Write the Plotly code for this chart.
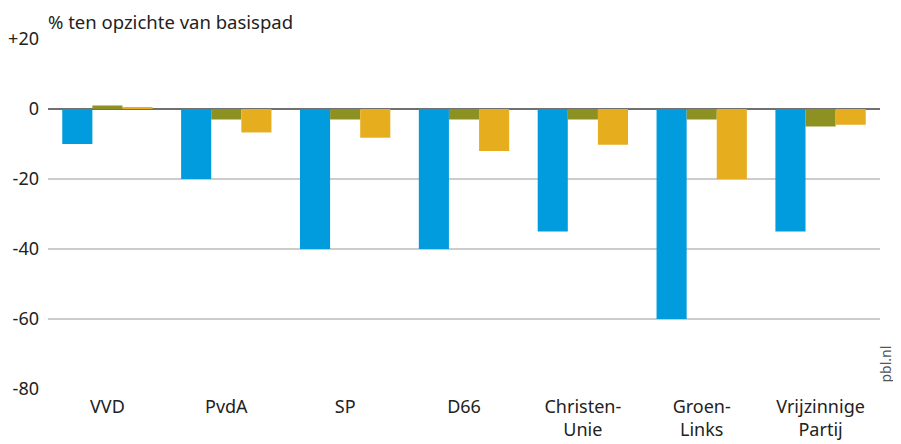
import plotly.graph_objects as go

categories = ["VVD", "PvdA", "SP", "D66", "Christen-<br>Unie", "Groen-<br>Links", "Vrijzinnige<br>Partij"]
series_blue = [-10, -20, -40, -40, -35, -60, -35]
series_green = [1, -3, -3, -3, -3, -3, -5]
series_yellow = [0.5, -6.7, -8.2, -12, -10.2, -20, -4.5]
tick_vals = [20, 0, -20, -40, -60, -80]
tick_text = ["+20", "0", "-20", "-40", "-60", "-80"]

colors = ["#009CDE", "#8C9122", "#E6AD1F"]
FONT = "Noto Sans"

fig = go.Figure()
for vals, c in zip([series_blue, series_green, series_yellow], colors):
    fig.add_trace(go.Bar(x=categories, y=vals, marker=dict(color=c, line=dict(width=0)),
                         showlegend=False, hoverinfo="skip"))

# page body has an 8px default margin, so the figure is sized to 893x436
fig.update_layout(
    width=893, height=436,
    margin=dict(l=40, r=21, t=31, b=55),
    barmode="group", bargap=0.24, bargroupgap=0,
    plot_bgcolor="white", paper_bgcolor="white",
    showlegend=False,
    font=dict(family=FONT, size=18, color="#222"),
    xaxis=dict(showgrid=False, showline=False, zeroline=False, ticks="",
               automargin=False,
               tickfont=dict(size=18, color="#222"), ticklabelstandoff=5),
    yaxis=dict(range=[-80, 20], tickvals=tick_vals, ticktext=tick_text,
               automargin=False,
               showgrid=True, gridcolor="#cccccc", gridwidth=2,
               zeroline=True, zerolinecolor="#707070", zerolinewidth=2,
               showline=False, ticks="", ticklabelstandoff=8,
               tickfont=dict(size=18, color="#222")),
    annotations=[
        dict(text="% ten opzichte van basispad", xref="paper", yref="paper",
             x=0, y=1, xanchor="left", yanchor="bottom", yshift=4, xshift=-1,
             borderpad=0,
             showarrow=False, font=dict(size=18.5, color="#222")),
        dict(text="pbl.nl", xref="paper", yref="paper", x=1, y=0.07,
             xanchor="center", yanchor="middle", xshift=5, textangle=-90,
             showarrow=False, font=dict(size=14, color="#555")),
    ],
)
fig.write_html("out.html")
